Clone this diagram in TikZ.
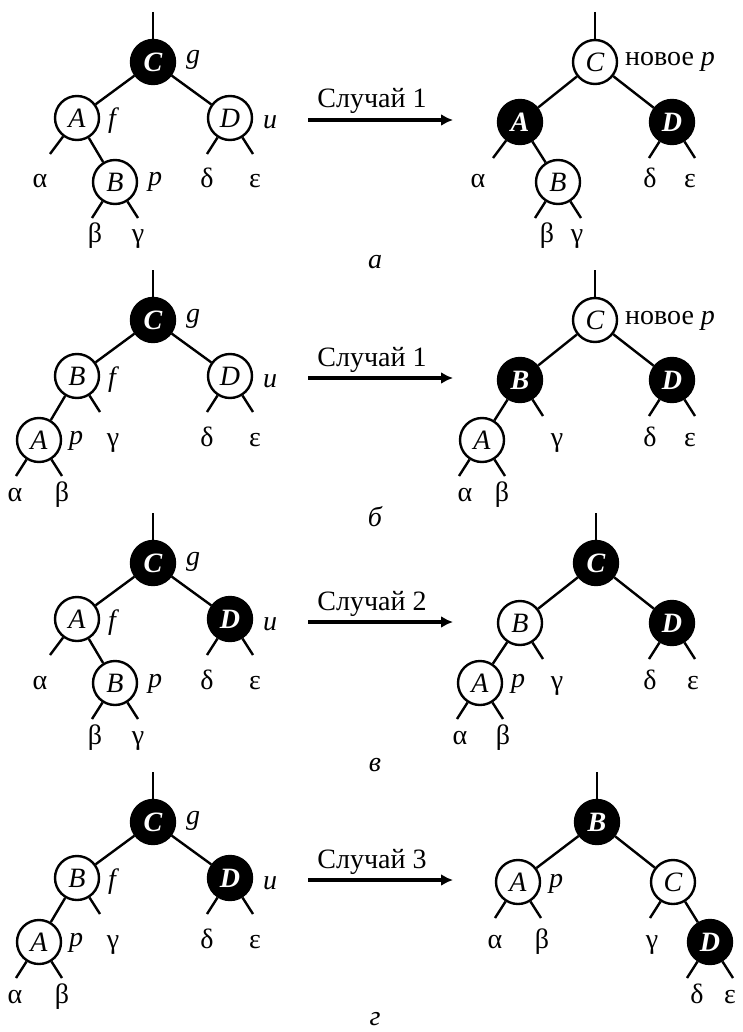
\documentclass[tikz,border=0pt]{standalone}
\usepackage{fontspec}
\setmainfont{Liberation Serif}
\usetikzlibrary{arrows.meta}
\newcommand\bigfs{\fontsize{28}{32}\selectfont}
\newcommand\lstub[2][-23]{\path (#2) ++(#1,36) coordinate (#2l); \draw (#2) -- (#2l);}
\newcommand\rstub[1]{\path (#1) ++(23,36) coordinate (#1r); \draw (#1) -- (#1r);}
\newcommand\topline[1]{\path (#1) ++(0,-50) coordinate (#1t); \draw (#1t) -- (#1);}
\begin{document}
\begin{tikzpicture}[x=1pt,y=-1pt,line width=2.4pt,
  wn/.style={circle,draw,fill=white,minimum size=44pt,inner sep=0pt,font=\bigfs\itshape},
  bn/.style={circle,draw,fill=black,text=white,minimum size=44pt,inner sep=0pt,font=\bigfs\itshape\bfseries},
  lbl/.style={inner sep=0pt,font=\bigfs\itshape,anchor=base west},
  gr/.style={inner sep=0pt,font=\bigfs,anchor=base},
  captxt/.style={inner sep=0pt,font=\bigfs\itshape,anchor=base},
  arr/.style={line width=3.6pt,-{Latex[length=12pt,width=12pt]}}]
\useasboundingbox (0,0) rectangle (742,1032);
% ================= panel a =================
\begin{scope}
\node[bn] (aLC) at (153,62) {C};
\node[wn] (aLA) at (77,118) {A};
\node[wn] (aLD) at (230,118) {D};
\node[wn] (aLB) at (115,182) {B};
\draw (aLC) -- (aLA); \draw (aLC) -- (aLD); \draw (aLA) -- (aLB);
\topline{aLC} \lstub[-27]{aLA} \lstub{aLB} \rstub{aLB} \lstub{aLD} \rstub{aLD}
\node[lbl] (aLg) at (185,64) {g};
\node[lbl] (aLf) at (107,128) {f};
\node[lbl] (aLu) at (262,129) {u};
\node[lbl] (aLp) at (147,186) {p};
\node[gr] (aLal) at (40,188) {α};
\node[gr] (aLde) at (207,188) {δ};
\node[gr] (aLep) at (255,188) {ε};
\node[gr] (aLbe) at (95,243) {β};
\node[gr] (aLga) at (138,243) {γ};
\coordinate (aS) at (308,120); \coordinate (aE) at (453,120);
\draw[arr] (aS) -- (aE);
\node[gr] (aT) at (372,108) {Случай 1};
\node[wn] (aRC) at (595,62) {C};
\node[bn] (aRA) at (520,122) {A};
\node[bn] (aRD) at (672,122) {D};
\node[wn] (aRB) at (558,182) {B};
\draw (aRC) -- (aRA); \draw (aRC) -- (aRD); \draw (aRA) -- (aRB);
\topline{aRC} \lstub[-27]{aRA} \lstub{aRB} \rstub{aRB} \lstub{aRD} \rstub{aRD}
\node[inner sep=0pt,font=\bigfs,anchor=base west] (aRn) at (624,66) {новое \textit{p}};
\node[gr] (aRal) at (478,188) {α};
\node[gr] (aRde) at (650,188) {δ};
\node[gr] (aRep) at (690,188) {ε};
\node[gr] (aRbe) at (547,243) {β};
\node[gr] (aRga) at (577,243) {γ};
\node[captxt] (aCap) at (375,268) {а};
\end{scope}
% ================= panel b =================
\begin{scope}[shift={(0,258)}]
\node[bn] (bLC) at (153,62) {C};
\node[wn] (bLB) at (77,118) {B};
\node[wn] (bLD) at (230,118) {D};
\node[wn] (bLA) at (39,182) {A};
\draw (bLC) -- (bLB); \draw (bLC) -- (bLD); \draw (bLB) -- (bLA);
\topline{bLC} \rstub{bLB} \lstub{bLA} \rstub{bLA} \lstub{bLD} \rstub{bLD}
\node[lbl] (bLg) at (185,64) {g};
\node[lbl] (bLf) at (107,128) {f};
\node[lbl] (bLu) at (262,129) {u};
\node[lbl] (bLp) at (68,186) {p};
\node[gr] (bLga) at (113,188) {γ};
\node[gr] (bLde) at (207,188) {δ};
\node[gr] (bLep) at (255,188) {ε};
\node[gr] (bLal) at (15,243) {α};
\node[gr] (bLbe) at (62,243) {β};
\coordinate (bS) at (308,120); \coordinate (bE) at (453,120);
\draw[arr] (bS) -- (bE);
\node[gr] (bT) at (372,108) {Случай 1};
\node[wn] (bRC) at (595,62) {C};
\node[bn] (bRB) at (520,122) {B};
\node[bn] (bRD) at (672,122) {D};
\node[wn] (bRA) at (482,182) {A};
\draw (bRC) -- (bRB); \draw (bRC) -- (bRD); \draw (bRB) -- (bRA);
\topline{bRC} \rstub{bRB} \lstub{bRA} \rstub{bRA} \lstub{bRD} \rstub{bRD}
\node[inner sep=0pt,font=\bigfs,anchor=base west] (bRn) at (624,66) {новое \textit{p}};
\node[gr] (bRga) at (557,188) {γ};
\node[gr] (bRde) at (650,188) {δ};
\node[gr] (bRep) at (690,188) {ε};
\node[gr] (bRal) at (465,243) {α};
\node[gr] (bRbe) at (502,243) {β};
\node[captxt] (bCap) at (375,268) {б};
\end{scope}
% ================= panel c =================
\begin{scope}[shift={(0,501)}]
\node[bn] (cLC) at (153,62) {C};
\node[wn] (cLA) at (77,118) {A};
\node[bn] (cLD) at (230,118) {D};
\node[wn] (cLB) at (115,182) {B};
\draw (cLC) -- (cLA); \draw (cLC) -- (cLD); \draw (cLA) -- (cLB);
\topline{cLC} \lstub[-27]{cLA} \lstub{cLB} \rstub{cLB} \lstub{cLD} \rstub{cLD}
\node[lbl] (cLg) at (185,64) {g};
\node[lbl] (cLf) at (107,128) {f};
\node[lbl] (cLu) at (262,129) {u};
\node[lbl] (cLp) at (147,186) {p};
\node[gr] (cLal) at (40,188) {α};
\node[gr] (cLde) at (207,188) {δ};
\node[gr] (cLep) at (255,188) {ε};
\node[gr] (cLbe) at (95,243) {β};
\node[gr] (cLga) at (138,243) {γ};
\coordinate (cS) at (308,121); \coordinate (cE) at (453,121);
\draw[arr] (cS) -- (cE);
\node[gr] (cT) at (372,109) {Случай 2};
\node[bn] (cRC) at (596,62) {C};
\node[wn] (cRB) at (520,122) {B};
\node[bn] (cRD) at (672,122) {D};
\node[wn] (cRA) at (480,182) {A};
\draw (cRC) -- (cRB); \draw (cRC) -- (cRD); \draw (cRB) -- (cRA);
\topline{cRC} \rstub{cRB} \lstub{cRA} \rstub{cRA} \lstub{cRD} \rstub{cRD}
\node[lbl] (cRp) at (510,186) {p};
\node[gr] (cRga) at (557,188) {γ};
\node[gr] (cRde) at (650,188) {δ};
\node[gr] (cRep) at (693,188) {ε};
\node[gr] (cRal) at (460,243) {α};
\node[gr] (cRbe) at (503,243) {β};
\node[captxt] (cCap) at (375,270) {в};
\end{scope}
% ================= panel d =================
\begin{scope}[shift={(0,760)}]
\node[bn] (dLC) at (153,62) {C};
\node[wn] (dLB) at (77,118) {B};
\node[bn] (dLD) at (230,118) {D};
\node[wn] (dLA) at (39,182) {A};
\draw (dLC) -- (dLB); \draw (dLC) -- (dLD); \draw (dLB) -- (dLA);
\topline{dLC} \rstub{dLB} \lstub{dLA} \rstub{dLA} \lstub{dLD} \rstub{dLD}
\node[lbl] (dLg) at (185,64) {g};
\node[lbl] (dLf) at (107,128) {f};
\node[lbl] (dLu) at (262,129) {u};
\node[lbl] (dLp) at (68,186) {p};
\node[gr] (dLga) at (113,188) {γ};
\node[gr] (dLde) at (207,188) {δ};
\node[gr] (dLep) at (255,188) {ε};
\node[gr] (dLal) at (15,243) {α};
\node[gr] (dLbe) at (62,243) {β};
\coordinate (dS) at (308,120); \coordinate (dE) at (453,120);
\draw[arr] (dS) -- (dE);
\node[gr] (dT) at (372,108) {Случай 3};
\node[bn] (dRB) at (597,62) {B};
\node[wn] (dRA) at (518,122) {A};
\node[wn] (dRC) at (673,122) {C};
\node[bn] (dRD) at (710,182) {D};
\draw (dRB) -- (dRA); \draw (dRB) -- (dRC); \draw (dRC) -- (dRD);
\topline{dRB} \lstub{dRA} \rstub{dRA} \lstub{dRC} \lstub{dRD} \rstub{dRD}
\node[lbl] (dRp) at (548,127) {p};
\node[gr] (dRal) at (495,188) {α};
\node[gr] (dRbe) at (542,188) {β};
\node[gr] (dRga) at (652,188) {γ};
\node[gr] (dRde) at (697,243) {δ};
\node[gr] (dRep) at (730,243) {ε};
\node[captxt] (dCap) at (375,265) {г};
\end{scope}
\end{tikzpicture}
\end{document}
